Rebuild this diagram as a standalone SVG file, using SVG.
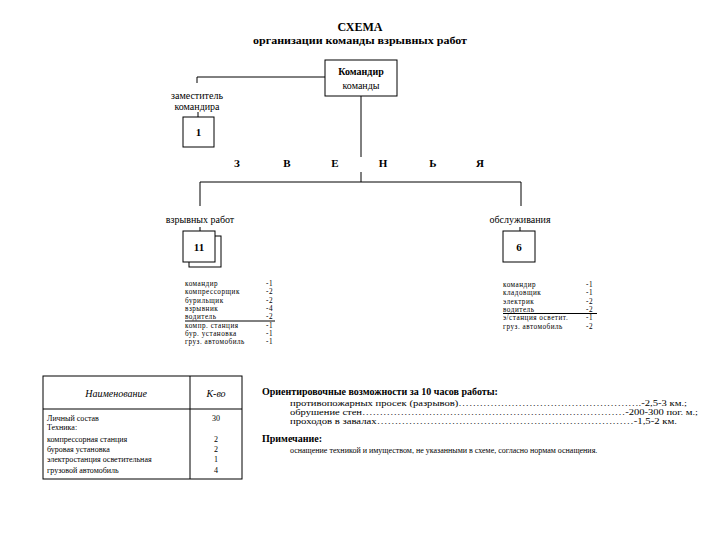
<svg xmlns="http://www.w3.org/2000/svg" width="720" height="540" viewBox="0 0 720 540">
<style>
text{font-family:"Liberation Serif","Times New Roman","DejaVu Serif",serif;fill:#000}
.t{font-size:12px;font-weight:bold}
.st{font-size:10.5px;font-weight:bold}
.n{font-size:10px}
.b{font-size:11px;font-weight:bold}
.l{font-size:7.2px;letter-spacing:0.5px}
.box{fill:#fff;stroke:#000;stroke-width:1}
.ln{stroke:#000;stroke-width:1;fill:none}
.i{font-size:10px;font-style:italic}
.s{font-size:8px}
</style>
<rect width="720" height="540" fill="#fff"/>
<g id="title">
<text class="t" x="360" y="31" text-anchor="middle">СХЕМА</text>
<text class="st" x="360" y="44" text-anchor="middle" textLength="214" lengthAdjust="spacingAndGlyphs">организации команды взрывных работ</text>
</g>
<g id="connectors">
<path class="ln" d="M325,77 H197 V83"/>
<path class="ln" d="M198,112 V117"/>
<path class="ln" d="M361,96 V157"/>
<path class="ln" d="M361,172 V182 M200,182 H521 M200,182 V206 M521,182 V206"/>
<path class="ln" d="M200,227 V231 M520,227 V231"/>
</g>
<g id="commander">
<rect class="box" x="325" y="60" width="72" height="36"/>
<text class="n" x="361" y="75" text-anchor="middle" font-weight="bold">Командир</text>
<text class="n" x="361" y="89" text-anchor="middle">команды</text>
</g>
<g id="deputy">
<text class="n" x="197" y="99" text-anchor="middle">заместитель</text>
<text class="n" x="197" y="110" text-anchor="middle">командира</text>
<rect class="box" x="183" y="117" width="31" height="30"/>
<text class="b" x="198.5" y="136" text-anchor="middle">1</text>
</g>
<g id="zvenya">
<text class="b" x="237" y="167" text-anchor="middle">З</text>
<text class="b" x="287" y="167" text-anchor="middle">В</text>
<text class="b" x="335" y="167" text-anchor="middle">Е</text>
<text class="b" x="383" y="167" text-anchor="middle">Н</text>
<text class="b" x="433" y="167" text-anchor="middle">Ь</text>
<text class="b" x="480" y="167" text-anchor="middle">Я</text>
</g>
<g id="blasting">
<text class="n" x="200" y="223" text-anchor="middle">взрывных работ</text>
<rect class="box" x="189" y="236" width="32" height="31"/>
<rect class="box" x="183" y="231" width="32" height="31"/>
<text class="b" x="199" y="251" text-anchor="middle">11</text>
<g class="l">
<text x="185" y="286">командир</text><text x="273" y="286" text-anchor="end">-1</text>
<text x="185" y="294.3">компрессорщик</text><text x="273" y="294.3" text-anchor="end">-2</text>
<text x="185" y="302.6">бурильщик</text><text x="273" y="302.6" text-anchor="end">-2</text>
<text x="185" y="310.9">взрывник</text><text x="273" y="310.9" text-anchor="end">-4</text>
<text x="185" y="319.2">водитель</text><text x="273" y="319.2" text-anchor="end">-2</text>
<text x="185" y="327.5">компр. станция</text><text x="273" y="327.5" text-anchor="end">-1</text>
<text x="185" y="335.8">бур. установка</text><text x="273" y="335.8" text-anchor="end">-1</text>
<text x="185" y="344.1">груз. автомобиль</text><text x="273" y="344.1" text-anchor="end">-1</text>
</g>
<path class="ln" d="M185,321 H275"/>
</g>
<g id="service">
<text class="n" x="520" y="223" text-anchor="middle">обслуживания</text>
<rect class="box" x="503" y="231" width="32" height="31"/>
<text class="b" x="519" y="251" text-anchor="middle">6</text>
<g class="l">
<text x="503" y="287">командир</text><text x="593" y="287" text-anchor="end">-1</text>
<text x="503" y="295.3">кладовщик</text><text x="593" y="295.3" text-anchor="end">-1</text>
<text x="503" y="303.6">электрик</text><text x="593" y="303.6" text-anchor="end">-2</text>
<text x="503" y="311.9">водитель</text><text x="593" y="311.9" text-anchor="end">-2</text>
<text x="503" y="320.2">э/станция осветит.</text><text x="593" y="320.2" text-anchor="end">-1</text>
<text x="503" y="328.5">груз. автомобиль</text><text x="593" y="328.5" text-anchor="end">-2</text>
</g>
<path class="ln" d="M503,313.5 H597"/>
</g>
<g id="table">
<rect class="ln" x="43" y="376" width="199" height="103"/>
<path class="ln" d="M190,376 V479 M43,409 H242"/>
<text class="i" x="116" y="397" text-anchor="middle">Наименование</text>
<text class="i" x="216" y="397" text-anchor="middle">К-во</text>
<g class="s">
<text x="47" y="421">Личный состав</text><text x="216" y="421" text-anchor="middle">30</text>
<text x="47" y="430">Техника:</text>
<text x="47" y="442">компрессорная станция</text><text x="216" y="442" text-anchor="middle">2</text>
<text x="47" y="452">буровая установка</text><text x="216" y="452" text-anchor="middle">2</text>
<text x="47" y="462">электростанция осветительная</text><text x="216" y="462" text-anchor="middle">1</text>
<text x="47" y="473">грузовой автомобиль</text><text x="216" y="473" text-anchor="middle">4</text>
</g>
</g>
<g id="notes">
<text x="262" y="395" font-size="10" font-weight="bold">Ориентировочные возможности за 10 часов работы:</text>
<text class="s" x="290" y="406" textLength="397" lengthAdjust="spacingAndGlyphs">противопожарных просек (разрывов)…………………………………………….-2,5-3 км.;</text>
<text class="s" x="290" y="415" textLength="408" lengthAdjust="spacingAndGlyphs">обрушение стен…………………………………………………………………-200-300 пог. м.;</text>
<text class="s" x="290" y="424" textLength="387" lengthAdjust="spacingAndGlyphs">проходов в завалах………………………………………………………………-1,5-2 км.</text>
<text x="262" y="442" font-size="10" font-weight="bold">Примечание:</text>
<text class="s" x="290" y="453">оснащение техникой и имуществом, не указанными в схеме, согласно нормам оснащения.</text>
</g>
</svg>
